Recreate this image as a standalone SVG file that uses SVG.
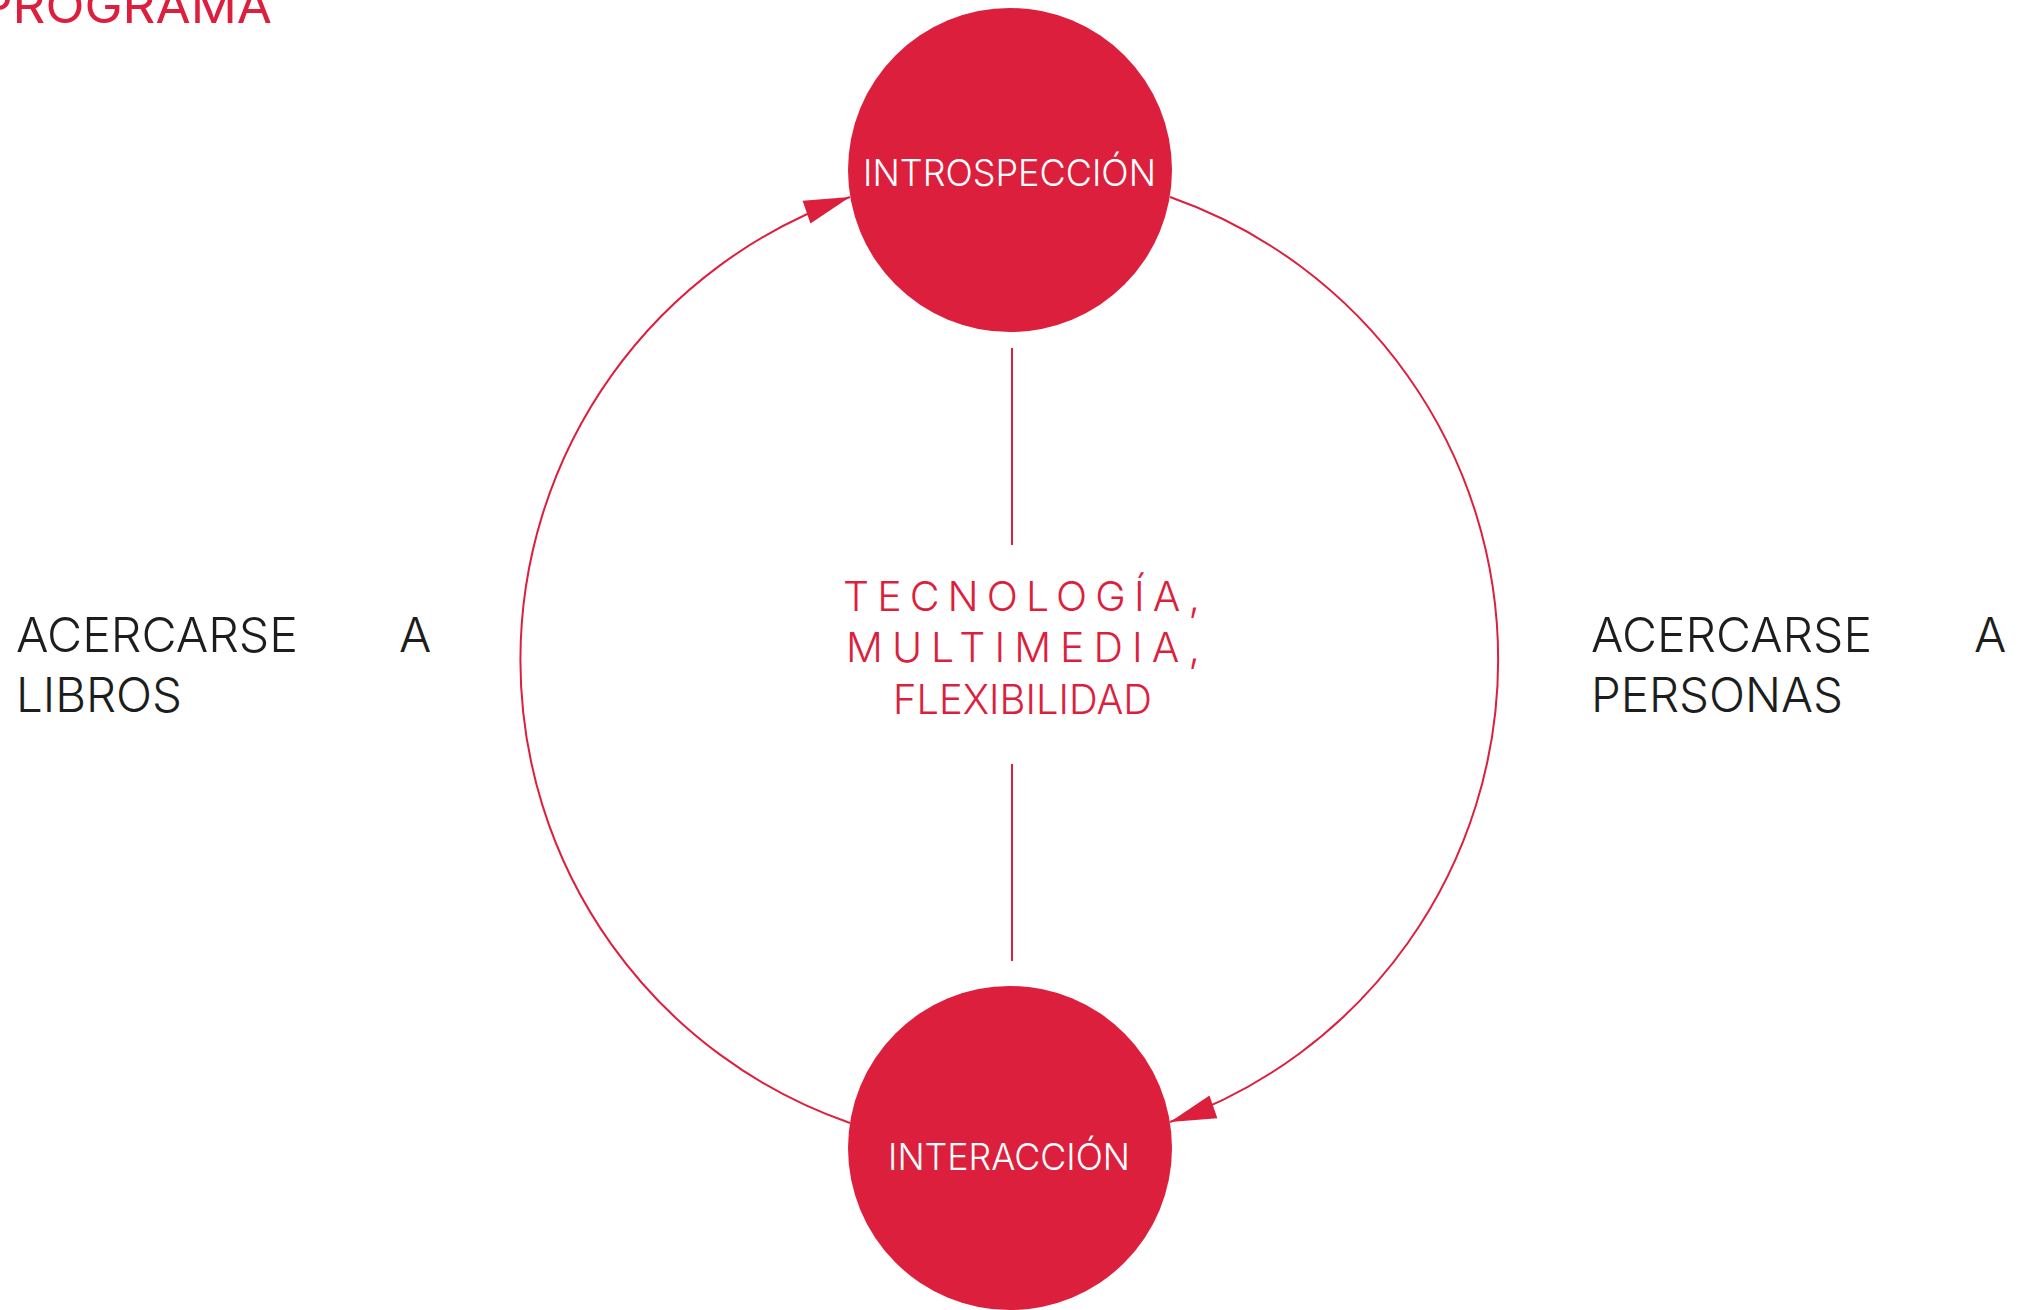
<svg xmlns="http://www.w3.org/2000/svg" width="2033" height="1310" viewBox="0 0 2033 1310">
  <style>
    .red { fill: #dd1f3e; }
    .link { fill: none; stroke: #dd1f3e; stroke-width: 2; }
    .node-label { font-family: Inter, "Liberation Sans", sans-serif; font-weight: 300; font-size: 37px; fill: #ffffff; }
    .center { font-family: Inter, "Liberation Sans", sans-serif; font-weight: 300; font-size: 41px; fill: #dd1f3e; }
    .side { font-family: Inter, "Liberation Sans", sans-serif; font-weight: 300; font-size: 48px; fill: #1d1d1d; }
    .title { font-family: Inter, "Liberation Sans", sans-serif; font-weight: 400; font-size: 48px; fill: #dd1f3e; }
  </style>
  <defs>
    <marker id="arrow" markerUnits="userSpaceOnUse" viewBox="-48 -14 50 28" refX="0" refY="0" markerWidth="50" markerHeight="28" orient="auto">
      <path d="M0,0 L-46,-12 L-46,12 Z" fill="#dd1f3e"/>
    </marker>
  </defs>

  <rect width="2033" height="1310" fill="#ffffff"/>

  <!-- heading, partly outside the page edge -->
  <text class="title" x="-20" y="23" textLength="292" lengthAdjust="spacingAndGlyphs">PROGRAMA</text>

  <!-- cycle connectors and centre axis -->
  <g id="connectors">
    <path class="link" d="M850,1123 A490,490 0 0 1 850,197" marker-end="url(#arrow)"/>
    <path class="link" d="M1170,197 A490,490 0 0 1 1170,1122" marker-end="url(#arrow)"/>
    <line class="link" x1="1012" y1="348" x2="1012" y2="545"/>
    <line class="link" x1="1012" y1="764" x2="1012" y2="961"/>
  </g>

  <g id="node-introspeccion">
    <circle class="red" cx="1010" cy="170" r="162"/>
    <text class="node-label" x="863" y="186" textLength="293" lengthAdjust="spacingAndGlyphs">INTROSPECCIÓN</text>
  </g>

  <g id="node-interaccion">
    <circle class="red" cx="1010" cy="1148" r="162"/>
    <text class="node-label" x="888" y="1170" textLength="242" lengthAdjust="spacingAndGlyphs">INTERACCIÓN</text>
  </g>

  <g id="centre-label">
    <text class="center" x="843" y="611" textLength="357" lengthAdjust="spacing">TECNOLOGÍA,</text>
    <text class="center" x="846" y="662" textLength="354" lengthAdjust="spacing">MULTIMEDIA,</text>
    <text class="center" x="893" y="714" textLength="259" lengthAdjust="spacingAndGlyphs">FLEXIBILIDAD</text>
  </g>

  <g id="label-libros">
    <text class="side" x="16" y="652" textLength="282" lengthAdjust="spacingAndGlyphs">ACERCARSE</text>
    <text class="side" x="399" y="652">A</text>
    <text class="side" x="16" y="712" textLength="166" lengthAdjust="spacingAndGlyphs">LIBROS</text>
  </g>

  <g id="label-personas">
    <text class="side" x="1591" y="652" textLength="281" lengthAdjust="spacingAndGlyphs">ACERCARSE</text>
    <text class="side" x="1974" y="652">A</text>
    <text class="side" x="1591" y="712" textLength="252" lengthAdjust="spacingAndGlyphs">PERSONAS</text>
  </g>
</svg>
